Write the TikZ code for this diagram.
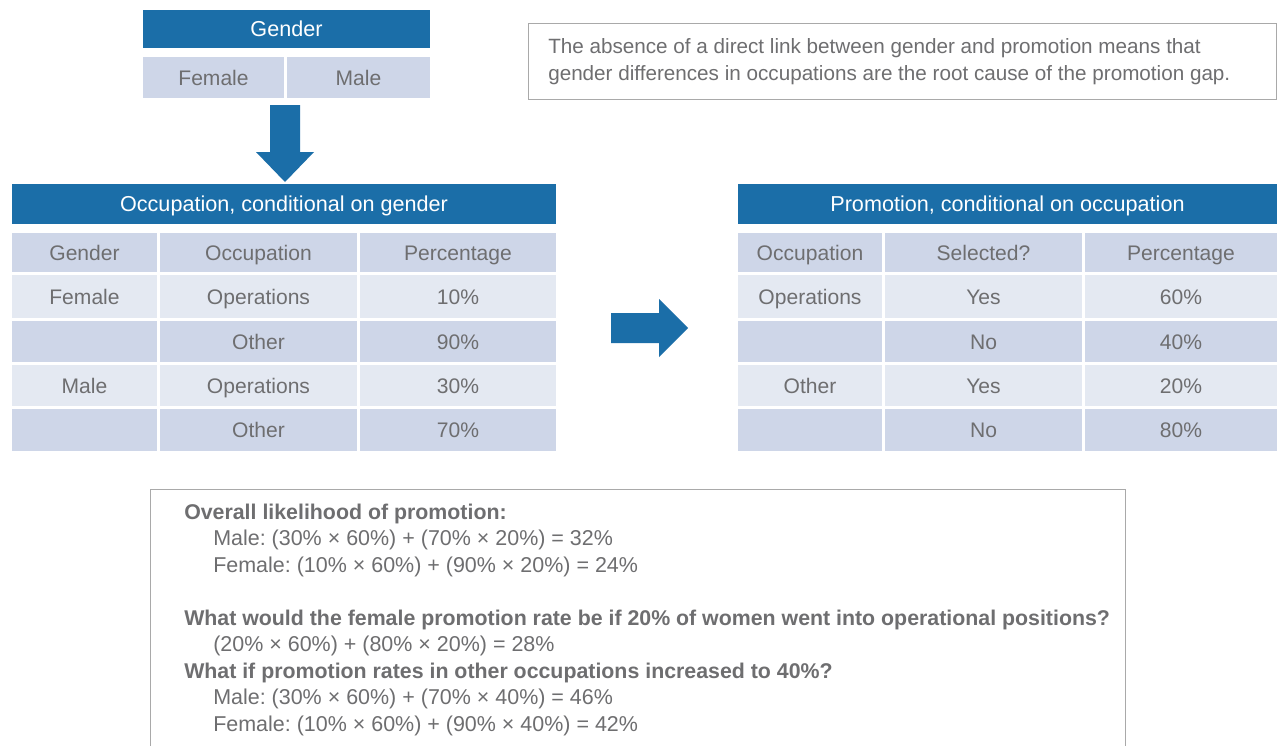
\documentclass[tikz,border=0pt]{standalone}
\usepackage{fontspec}
\setmainfont{Liberation Sans}
\frenchspacing
\definecolor{hdrblue}{HTML}{1B6EA8}
\definecolor{celldark}{HTML}{CED6E8}
\definecolor{celllight}{HTML}{E4E9F2}
\definecolor{txtgray}{HTML}{6E6E70}
\definecolor{boxgray}{HTML}{A9A9A9}
\newcommand\mycell[8]{%
  \node[#6,minimum width={(#4-#2)*0.75pt},minimum height={(#5-#3)*0.75pt}] (#1) at ({(#2+#4)/2},{(#3+#5)/2}) {#8};}
\tikzset{
  cellbase/.style={inner sep=0pt,text height=11.4pt,text depth=0pt},
  hdr/.style={cellbase,fill=hdrblue,text=white,font=\fontsize{16.2}{19}\selectfont},
  dk/.style={cellbase,fill=celldark,text=txtgray,font=\fontsize{15.8}{19}\selectfont},
  lt/.style={cellbase,fill=celllight,text=txtgray,font=\fontsize{15.8}{19}\selectfont},
  blockarrow/.style={fill=hdrblue},
  note/.style={anchor=base west,inner sep=0pt,text=txtgray,font=\fontsize{15.5}{18}\selectfont},
  calc/.style={note,font=\fontsize{16.1}{18}\selectfont},
  notebold/.style={note,font=\fontsize{16}{18}\selectfont\bfseries},
  framebox/.style={draw=boxgray,line width=1pt}
}
\begin{document}
\begin{tikzpicture}[x=0.75pt,y=-0.75pt]
\useasboundingbox[fill=white] (0,0) rectangle (1277,746);
% gender table
\mycell{gh}{143}{10}{430}{48}{hdr}{}{Gender}
\mycell{gf}{143}{57}{284}{98}{dk}{}{Female}
\mycell{gm}{287}{57}{430}{98}{dk}{}{Male}
% down arrow
\fill[blockarrow] (270,105) -- (300,105) -- (300,152) -- (314,152) -- (285,182) -- (256,152) -- (270,152) -- cycle;
% left table
\mycell{lh}{12}{184}{556}{224}{hdr}{}{Occupation, conditional on gender}
\mycell{l01}{12}{233}{157}{272}{dk}{}{Gender}
\mycell{l02}{160}{233}{357}{272}{dk}{}{Occupation}
\mycell{l03}{360}{233}{556}{272}{dk}{}{Percentage}
\mycell{l11}{12}{275}{157}{318}{lt}{}{Female}
\mycell{l12}{160}{275}{357}{318}{lt}{}{Operations}
\mycell{l13}{360}{275}{556}{318}{lt}{}{10\%}
\mycell{l21}{12}{321}{157}{362}{dk}{}{}
\mycell{l22}{160}{321}{357}{362}{dk}{}{Other}
\mycell{l23}{360}{321}{556}{362}{dk}{}{90\%}
\mycell{l31}{12}{365}{157}{406}{lt}{}{Male}
\mycell{l32}{160}{365}{357}{406}{lt}{}{Operations}
\mycell{l33}{360}{365}{556}{406}{lt}{}{30\%}
\mycell{l41}{12}{409}{157}{451}{dk}{}{}
\mycell{l42}{160}{409}{357}{451}{dk}{}{Other}
\mycell{l43}{360}{409}{556}{451}{dk}{}{70\%}
% right arrow
\fill[blockarrow] (611,313) -- (659,313) -- (659,299) -- (688,328) -- (659,357) -- (659,343) -- (611,343) -- cycle;
% right table
\mycell{rh}{738}{184}{1277}{224}{hdr}{}{Promotion, conditional on occupation}
\mycell{r01}{738}{233}{882}{272}{dk}{}{Occupation}
\mycell{r02}{885}{233}{1082}{272}{dk}{}{Selected?}
\mycell{r03}{1085}{233}{1277}{272}{dk}{}{Percentage}
\mycell{r11}{738}{275}{882}{318}{lt}{}{Operations}
\mycell{r12}{885}{275}{1082}{318}{lt}{}{Yes}
\mycell{r13}{1085}{275}{1277}{318}{lt}{}{60\%}
\mycell{r21}{738}{321}{882}{362}{dk}{}{}
\mycell{r22}{885}{321}{1082}{362}{dk}{}{No}
\mycell{r23}{1085}{321}{1277}{362}{dk}{}{40\%}
\mycell{r31}{738}{365}{882}{406}{lt}{}{Other}
\mycell{r32}{885}{365}{1082}{406}{lt}{}{Yes}
\mycell{r33}{1085}{365}{1277}{406}{lt}{}{20\%}
\mycell{r41}{738}{409}{882}{451}{dk}{}{}
\mycell{r42}{885}{409}{1082}{451}{dk}{}{No}
\mycell{r43}{1085}{409}{1277}{451}{dk}{}{80\%}
% top-right note
\draw[framebox] (528.5,23.5) rectangle (1276.5,99.5);
\node[note] (n1) at (548,53.5) {The absence of a direct link between gender and promotion means that};
\node[note] (n2) at (548,80.5) {gender differences in occupations are the root cause of the promotion gap.};
% bottom box
\draw[framebox] (150.5,746) -- (150.5,489.5) -- (1125.5,489.5) -- (1125.5,746);
\node[notebold] (b1) at (184,519.5) {Overall likelihood of promotion:};
\node[calc] (b2) at (213,545.5) {Male: (30\% × 60\%) + (70\% × 20\%) = 32\%};
\node[calc] (b3) at (213,572.5) {Female: (10\% × 60\%) + (90\% × 20\%) = 24\%};
\node[notebold] (b4) at (184,625.5) {What would the female promotion rate be if 20\% of women went into operational positions?};
\node[calc] (b5) at (213,651.5) {(20\% × 60\%) + (80\% × 20\%) = 28\%};
\node[notebold] (b6) at (184,678.5) {What if promotion rates in other occupations increased to 40\%?};
\node[calc] (b7) at (213,704.5) {Male: (30\% × 60\%) + (70\% × 40\%) = 46\%};
\node[calc] (b8) at (213,731.5) {Female: (10\% × 60\%) + (90\% × 40\%) = 42\%};
\end{tikzpicture}
\end{document}
